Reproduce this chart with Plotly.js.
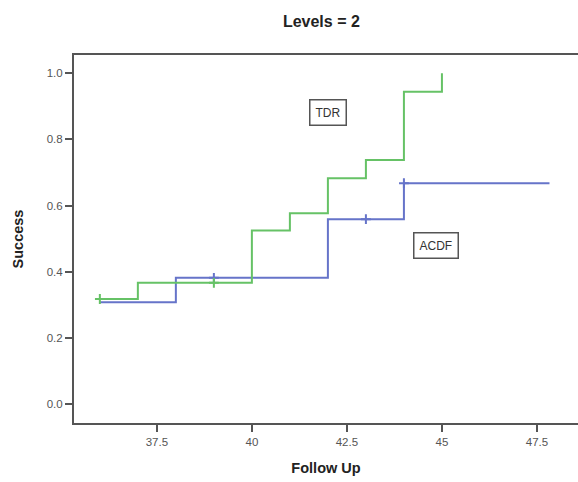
<!DOCTYPE html>
<html>
<head>
<meta charset="utf-8">
<script src="https://cdn.plot.ly/plotly-3.0.1.min.js"></script>
<style>html,body{margin:0;padding:0;background:#fff;}#chart{width:578px;height:482px;}</style>
</head>
<body>
<div id="chart"></div>
<script>
// TDR survival step curve
const tdrX = [36, 37, 40, 41, 42, 43, 44, 45];
const tdrY = [0.318, 0.367, 0.525, 0.577, 0.683, 0.738, 0.944, 1.0];
// TDR censored points
const tdrCensX = [36, 39];
const tdrCensY = [0.318, 0.367];

// ACDF survival step curve
const acdfX = [36, 38, 42, 44, 47.83];
const acdfY = [0.308, 0.382, 0.559, 0.668, 0.668];
// ACDF censored points
const acdfCensX = [39, 43, 44];
const acdfCensY = [0.382, 0.559, 0.668];

const xTicks = [37.5, 40, 42.5, 45, 47.5];
const xTickText = ['37.5', '40', '42.5', '45', '47.5'];
const yTicks = [0, 0.2, 0.4, 0.6, 0.8, 1.0];
const yTickText = ['0.0', '0.2', '0.4', '0.6', '0.8', '1.0'];

const green = '#66c266';
const blue = '#6674c9';

const traces = [
  {x: acdfX, y: acdfY, mode: 'lines', line: {shape: 'hv', color: blue, width: 2}, hoverinfo: 'skip', showlegend: false},
  {x: tdrX, y: tdrY, mode: 'lines', line: {shape: 'hv', color: green, width: 2}, hoverinfo: 'skip', showlegend: false},
  {x: acdfCensX, y: acdfCensY, mode: 'markers', marker: {symbol: 'cross-thin', size: 7, line: {color: blue, width: 2}}, showlegend: false},
  {x: tdrCensX, y: tdrCensY, mode: 'markers', marker: {symbol: 'cross-thin', size: 7, line: {color: green, width: 2}}, showlegend: false}
];

const tickFont = {family: 'Liberation Sans, Arial, sans-serif', size: 11.5, color: '#555'};

const layout = {
  width: 578, height: 482,
  margin: {l: 74, r: 0, t: 55, b: 59},
  paper_bgcolor: '#fff', plot_bgcolor: '#fff',
  title: {text: '<b>Levels = 2</b>', x: 0.556, xanchor: 'center', y: 0.955, yanchor: 'middle',
          font: {family: 'Liberation Sans, Arial, sans-serif', size: 16, color: '#222'}},
  xaxis: {
    range: [35.32, 48.58], tickvals: xTicks, ticktext: xTickText,
    showgrid: false, zeroline: false, showline: true, linecolor: '#555', linewidth: 2,
    mirror: true, ticks: 'outside', ticklen: 7, tickwidth: 2, tickcolor: '#555',
    tickfont: tickFont,
    title: {text: '<b>Follow Up</b>', font: {family: 'Liberation Sans, Arial, sans-serif', size: 14.5, color: '#222'}, standoff: 16}
  },
  yaxis: {
    range: [-0.0565, 1.055], tickvals: yTicks, ticktext: yTickText,
    showgrid: false, zeroline: false, showline: true, linecolor: '#555', linewidth: 2,
    ticks: 'outside', ticklen: 7, tickwidth: 2, tickcolor: '#555',
    tickfont: tickFont,
    title: {text: '<b>Success</b>', font: {family: 'Liberation Sans, Arial, sans-serif', size: 14.5, color: '#222'}, standoff: 20}
  },
  annotations: [
    {x: 42.01, y: 0.88, xref: 'x', yref: 'y', text: 'TDR', showarrow: false,
     font: {family: 'Liberation Sans, Arial, sans-serif', size: 12, color: '#333'},
     bordercolor: '#555', borderwidth: 1.5, borderpad: 5, bgcolor: '#fff'},
    {x: 44.84, y: 0.481, xref: 'x', yref: 'y', text: 'ACDF', showarrow: false,
     font: {family: 'Liberation Sans, Arial, sans-serif', size: 12, color: '#333'},
     bordercolor: '#555', borderwidth: 1.5, borderpad: 5, bgcolor: '#fff'}
  ]
};

Plotly.newPlot('chart', traces, layout, {displayModeBar: false, staticPlot: true});
</script>
</body>
</html>
